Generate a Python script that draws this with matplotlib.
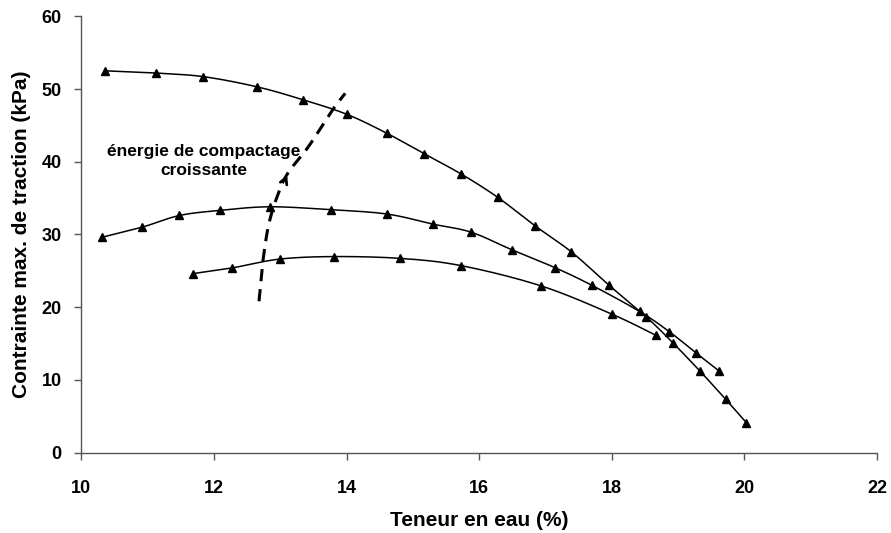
import numpy as np
import matplotlib
matplotlib.use("Agg")
import matplotlib.pyplot as plt

# ---- data ----
top_w = [10.36, 11.12, 11.84, 12.65, 13.35, 14.01, 14.61, 15.17, 15.73, 16.28,
         16.84, 17.39, 17.96, 18.52, 18.92, 19.33, 19.72, 20.03]
top_v = [52.5, 52.2, 51.7, 50.3, 48.5, 46.5, 43.9, 41.1, 38.3, 35.1,
         31.2, 27.6, 23.0, 18.65, 15.1, 11.2, 7.3, 4.1]

mid_w = [10.31, 10.92, 11.48, 12.09, 12.84, 13.76, 14.61, 15.31, 15.88, 16.49,
         17.15, 17.70, 18.42, 18.87, 19.27, 19.62]
mid_v = [29.6, 31.0, 32.6, 33.3, 33.8, 33.4, 32.8, 31.4, 30.3, 27.9,
         25.4, 23.0, 19.4, 16.6, 13.7, 11.2]

bot_w = [11.68, 12.28, 12.99, 13.81, 14.81, 15.73, 16.94, 18.01, 18.67]
bot_v = [24.6, 25.4, 26.6, 26.95, 26.7, 25.7, 22.9, 19.0, 16.1]

arrow_w = [12.68, 12.74, 12.83, 12.97, 13.12, 13.42, 13.78, 13.98]
arrow_v = [20.8, 26.4, 31.5, 35.6, 38.5, 42.0, 47.0, 49.4]
arrow_head_index = 4

x_ticks = [10, 12, 14, 16, 18, 20, 22]
y_ticks = [0, 10, 20, 30, 40, 50, 60]

x_label = "Teneur en eau (%)"
y_label = "Contrainte max. de traction (kPa)"
note = "énergie de compactage\ncroissante"


def smooth(xs, ys, n=20):
    """Excel-like smoothed line (Catmull-Rom as cubic Bezier)."""
    p = np.column_stack([xs, ys]).astype(float)
    pts = np.vstack([p[0], p, p[-1]])
    out = []
    t = np.linspace(0, 1, n)[:, None]
    for i in range(1, len(pts) - 2):
        p0, p1, p2, p3 = pts[i - 1], pts[i], pts[i + 1], pts[i + 2]
        c1 = p1 + (p2 - p0) / 6.0
        c2 = p2 - (p3 - p1) / 6.0
        seg = ((1 - t) ** 3) * p1 + 3 * ((1 - t) ** 2) * t * c1 + 3 * (1 - t) * t ** 2 * c2 + t ** 3 * p2
        out.append(seg if i == 1 else seg[1:])
    s = np.vstack(out)
    return s[:, 0], s[:, 1]


plt.rcParams['font.family'] = ['Liberation Sans', 'DejaVu Sans']
fig = plt.figure(figsize=(8.91, 5.33), dpi=100)
ax = fig.add_axes([81.3 / 891, 1 - 452.5 / 533, (877 - 81.3) / 891, (452.5 - 16.3) / 533])

for w, v in [(top_w, top_v), (mid_w, mid_v), (bot_w, bot_v)]:
    sx, sy = smooth(w, v)
    ax.plot(sx, sy, color='black', lw=1.1, zorder=2)
    ax.plot(w, v, linestyle='none', marker='^', color='black', ms=5.5, zorder=3)

# dashed arrow
ax_, ay_ = smooth(arrow_w, arrow_v)
ax.plot(ax_, ay_, color='black', lw=2.2, linestyle=(0, (4, 2.6)), zorder=2)
i = arrow_head_index
ax.annotate('', xy=(arrow_w[i], arrow_v[i]),
            xytext=(arrow_w[i] - 0.06, arrow_v[i] - 1.3),
            arrowprops=dict(arrowstyle='->,head_length=0.45,head_width=0.25', color='black', lw=2.0))

ax.text(11.85, 40.1, note, ha='center', va='center', fontsize=12.5, fontweight='bold',
        linespacing=1.3)

ax.set_xlim(10, 22)
ax.set_ylim(0, 60)
ax.set_xticks(x_ticks)
ax.set_yticks(y_ticks)
ax.set_xticklabels([str(t) for t in x_ticks], fontsize=13, fontweight='bold')
ax.set_yticklabels([str(t) for t in y_ticks], fontsize=13, fontweight='bold')
ax.tick_params(direction='out', length=5, width=1, color='#555555')
ax.tick_params(axis='x', pad=15)
ax.tick_params(axis='y', pad=9)
for s in ['top', 'right']:
    ax.spines[s].set_visible(False)
for s in ['left', 'bottom']:
    ax.spines[s].set_color('#555555')
    ax.spines[s].set_linewidth(1.0)

ax.set_xlabel(x_label, fontsize=15, fontweight='bold', labelpad=10)
ax.set_ylabel(y_label, fontsize=15, fontweight='bold', labelpad=8)

fig.savefig('out.png', dpi=100)
